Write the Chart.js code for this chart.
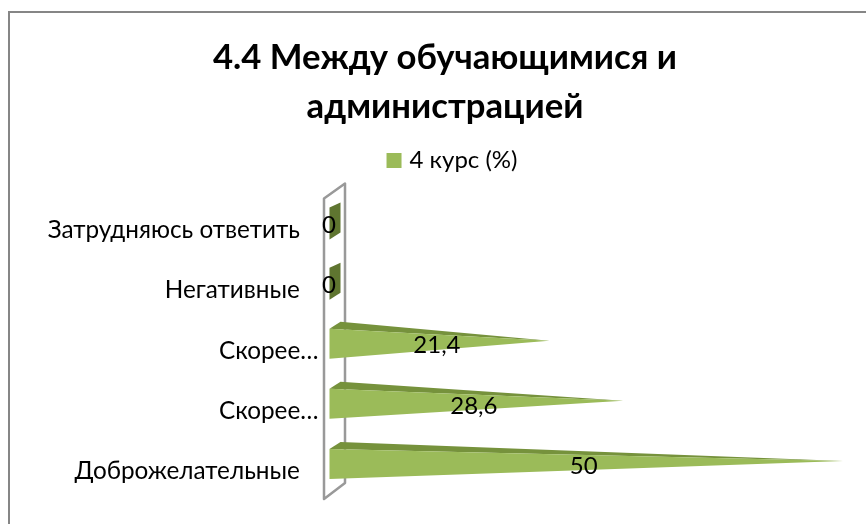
<!DOCTYPE html>
<html>
<head>
<meta charset="utf-8">
<script src="https://cdn.jsdelivr.net/npm/chart.js@4"></script>
<style>
  html, body { margin: 0; padding: 0; background: #fff; overflow: hidden; width: 866px; height: 524px; }
  #frame { position: absolute; left: 8px; top: 11px; width: 880px; height: 530px; border: 2px solid #868686; box-sizing: border-box; }
  #wrap { position: absolute; left: 10px; top: 13px; width: 870px; height: 526px; }
</style>
</head>
<body>
<div id="frame"></div>
<div id="wrap"><canvas id="chart"></canvas></div>
<script>
const CATEGORIES = ["Затрудняюсь ответить", "Негативные", "Скорее…", "Скорее…", "Доброжелательные"];
const VALUES = [0, 0, 21.4, 28.6, 50];
const SERIES_NAME = "4 курс (%)";
const TITLE_LINES = ["4.4 Между обучающимися и", "администрацией"];
const AXIS_MAX = 53.6;

const FONT = "Lato, 'Open Sans', sans-serif";
const GREEN = "#9bbb59";
const GREEN_TOP = "#76923c";
const GREEN_ZERO = "#5f7530";

// Excel's 3D pyramid look: Chart.js has no such bar, so the elements are
// laid out by the library and only painted here.
const pyramid = {
  id: "pyramid",
  beforeInit(chart) {
    // room between legend and plot
    const fit = chart.legend.fit;
    chart.legend.fit = function () {
      fit.call(this);
      this.height += 18;
    };
  },
  afterLayout(chart) {
    // legend sits a little right of the title in the original
    chart.legend.left += 9;
    chart.legend.right += 9;
  },
  beforeDatasetsDraw(chart) {
    const { ctx, chartArea: a } = chart;
    const l = a.left - 5.5, r = a.left + 15.5;
    ctx.save();
    ctx.strokeStyle = "#999999";
    ctx.lineWidth = 2.5;
    ctx.lineJoin = "round";
    ctx.beginPath();
    ctx.moveTo(l, a.top - 2);
    ctx.lineTo(r, a.top - 17);
    ctx.lineTo(r, a.bottom - 18);
    ctx.lineTo(l, a.bottom - 2);
    ctx.closePath();
    ctx.stroke();
    ctx.restore();
  },
  beforeDatasetDraw(chart, args) {
    const { ctx } = chart;
    for (const bar of args.meta.data) {
      const cy = bar.y - 7, half = bar.height / 2;
      ctx.save();
      if (bar.x - bar.base < 1) {
        ctx.fillStyle = GREEN_ZERO;
        ctx.beginPath();
        ctx.moveTo(bar.base, cy - half - 1);
        ctx.lineTo(bar.base + 11, cy - half - 6);
        ctx.lineTo(bar.base + 11, cy + half - 6);
        ctx.lineTo(bar.base, cy + half + 1);
        ctx.closePath();
        ctx.fill();
      } else {
        ctx.fillStyle = GREEN_TOP;
        ctx.beginPath();
        ctx.moveTo(bar.base, cy - half);
        ctx.lineTo(bar.base + 11, cy - half - 7);
        ctx.lineTo(bar.x, cy - 3);
        ctx.closePath();
        ctx.fill();
        ctx.fillStyle = GREEN;
        ctx.beginPath();
        ctx.moveTo(bar.base, cy - half);
        ctx.lineTo(bar.x, cy - 3);
        ctx.lineTo(bar.base, cy + half);
        ctx.closePath();
        ctx.fill();
      }
      ctx.restore();
    }
    return false;
  },
  afterDatasetsDraw(chart) {
    const { ctx } = chart;
    const meta = chart.getDatasetMeta(0);
    ctx.save();
    ctx.fillStyle = "#000";
    ctx.font = "24px " + FONT;
    ctx.textAlign = "center";
    ctx.textBaseline = "middle";
    meta.data.forEach((bar, i) => {
      const mid = (bar.x + bar.base) / 2;
      const text = String(VALUES[i]).replace(".", ",");
      ctx.fillText(text, mid - (VALUES[i] ? 2.5 : 0.5), bar.y - 5);
    });
    ctx.restore();
  },
};

new Chart(document.getElementById("chart"), {
  type: "bar",
  data: {
    labels: CATEGORIES,
    datasets: [{ label: SERIES_NAME, data: VALUES, backgroundColor: GREEN, borderColor: GREEN, borderWidth: 8, barThickness: 30 }],
  },
  options: {
    indexAxis: "y",
    responsive: true, maintainAspectRatio: false,
    animation: false,
    layout: { padding: { top: 9, right: 0, bottom: 38, left: 0 } },
    scales: {
      x: { display: false, min: 0, max: AXIS_MAX },
      y: {
        grid: { display: false },
        border: { display: false },
        ticks: {
          color: "#000", padding: 3, font: { family: FONT, size: 24.3 }, autoSkip: false,
          // the truncated labels run closer to the wall than the full ones
          callback(value) {
            const label = this.getLabelForValue(value);
            return label.endsWith("…") ? label : label + "\u00A0\u00A0\u00A0";
          },
        },
        afterFit(scale) { scale.width = 319.5; },
      },
    },
    plugins: {
      tooltip: { enabled: false },
      title: {
        display: true,
        text: TITLE_LINES,
        color: "#000",
        font: { family: FONT, size: 34.7, weight: "bold", lineHeight: 1.39 },
        padding: { top: 12, bottom: 8 },
      },
      legend: {
        display: true,
        labels: {
          color: "#000",
          boxWidth: 7, boxHeight: 7, padding: 10,
          font: { family: FONT, size: 24 },
        },
      },
    },
  },
  plugins: [pyramid],
});
</script>
</body>
</html>
